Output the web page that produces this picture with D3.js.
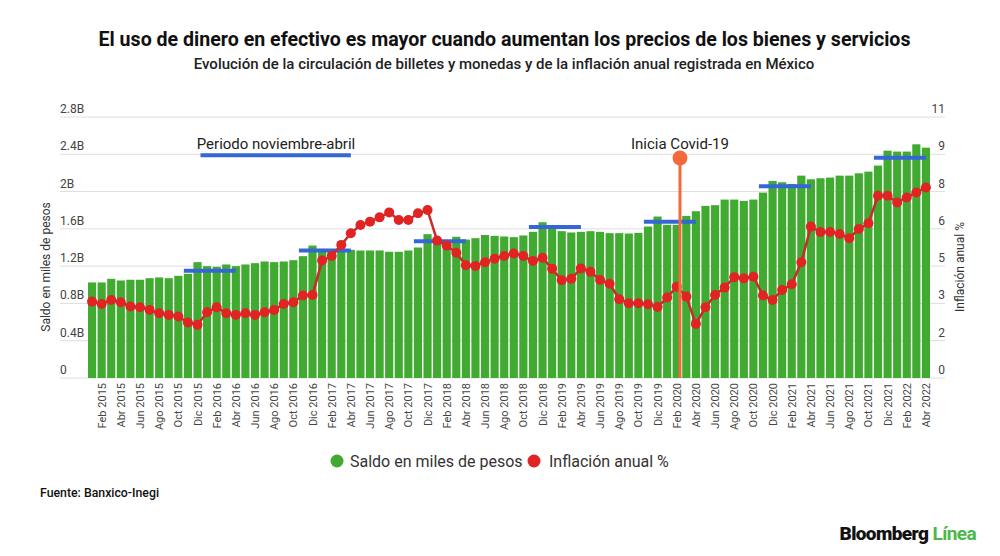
<!DOCTYPE html>
<html>
<head>
<meta charset="utf-8">
<script src="https://cdn.jsdelivr.net/npm/d3@7/dist/d3.min.js"></script>
<style>
  html, body { margin: 0; padding: 0; background: #fff; }
  svg { display: block; font-family: Roboto, "Noto Sans", sans-serif; }
</style>
</head>
<body>
<svg id="chart" width="1000" height="556"></svg>
<script>
// ---------- DATA ----------
const monthNames = ["Ene","Feb","Mar","Abr","May","Jun","Jul","Ago","Sep","Oct","Nov","Dic"];
const years = [2015, 2016, 2017, 2018, 2019, 2020, 2021, 2022];
const lastMonthCount = 4; // 2022: Ene-Abr

// Saldo (billetes y monedas) en miles de millones ("B")
const saldo = [
  1.025, 1.025, 1.064, 1.046, 1.054, 1.054, 1.071, 1.079, 1.071, 1.096, 1.118, 1.243,
  1.200, 1.193, 1.218, 1.200, 1.218, 1.232, 1.250, 1.243, 1.250, 1.264, 1.307, 1.421,
  1.385, 1.375, 1.370, 1.375, 1.368, 1.368, 1.368, 1.354, 1.354, 1.368, 1.400, 1.543,
  1.500, 1.475, 1.515, 1.485, 1.500, 1.534, 1.525, 1.518, 1.511, 1.529, 1.568, 1.671,
  1.621, 1.575, 1.561, 1.568, 1.575, 1.568, 1.554, 1.554, 1.550, 1.557, 1.625, 1.732,
  1.643, 1.643, 1.739, 1.789, 1.846, 1.854, 1.914, 1.914, 1.900, 1.914, 1.989, 2.114,
  2.100, 2.082, 2.171, 2.132, 2.143, 2.150, 2.171, 2.171, 2.196, 2.214, 2.279, 2.439,
  2.429, 2.429, 2.507, 2.471
];

// Inflación anual %
const inflacion = [
  3.22, 3.12, 3.29, 3.19, 3.01, 2.98, 2.87, 2.73, 2.66, 2.59, 2.34, 2.24,
  2.77, 2.98, 2.73, 2.66, 2.73, 2.66, 2.77, 2.87, 3.12, 3.19, 3.48, 3.50,
  4.95, 5.14, 5.61, 6.10, 6.45, 6.59, 6.77, 6.98, 6.66, 6.66, 6.94, 7.08,
  5.79, 5.58, 5.28, 4.75, 4.72, 4.88, 5.03, 5.14, 5.25, 5.14, 4.93, 5.07,
  4.60, 4.12, 4.18, 4.62, 4.48, 4.13, 3.97, 3.32, 3.15, 3.15, 3.11, 2.99,
  3.39, 3.85, 3.43, 2.28, 2.98, 3.50, 3.81, 4.25, 4.20, 4.27, 3.48, 3.29,
  3.71, 3.95, 4.88, 6.38, 6.15, 6.15, 6.07, 5.89, 6.28, 6.52, 7.68, 7.68,
  7.40, 7.61, 7.82, 8.03
];

// Periodos noviembre-abril: [inicio, fin, nivel en B]
const periodos = [
  ["Nov 2015", "Abr 2016", 1.150],
  ["Nov 2016", "Abr 2017", 1.368],
  ["Nov 2017", "Abr 2018", 1.468],
  ["Nov 2018", "Abr 2019", 1.621],
  ["Nov 2019", "Abr 2020", 1.675],
  ["Nov 2020", "Abr 2021", 2.057],
  ["Nov 2021", "Abr 2022", 2.364]
];

const leftTicks = [0, 0.4, 0.8, 1.2, 1.6, 2.0, 2.4, 2.8];
const leftTickLabels = ["0", "0.4B", "0.8B", "1.2B", "1.6B", "2B", "2.4B", "2.8B"];
const rightTickLabels = ["0", "2", "3", "5", "6", "8", "9", "11"];
const rightMax = 11;

const covidMonth = "Feb 2020";
const legendPeriodo = ["Dic 2015", "Abr 2017", 2.39];

// ---------- BUILD ----------
const categories = [];
years.forEach(y => {
  const n = (y === 2022) ? lastMonthCount : 12;
  for (let m = 0; m < n; m++) categories.push(monthNames[m] + " " + y);
});
const data = categories.map((c, i) => ({ cat: c, saldo: saldo[i], inf: inflacion[i] }));

const svg = d3.select("#chart");
const plot = { left: 88, right: 930, top: 117, bottom: 378 };

const x = d3.scaleBand().domain(categories).range([plot.left, plot.right])
  .paddingInner(0.15).paddingOuter(0);
const yL = d3.scaleLinear().domain([0, 2.8]).range([plot.bottom, plot.top]);
const yR = d3.scaleLinear().domain([0, rightMax]).range([plot.bottom, plot.top]);
const cx = c => x(c) + x.bandwidth() / 2;

// Titles
svg.append("text").attr("x", 504.5).attr("y", 45.5).attr("text-anchor", "middle")
  .attr("font-size", 19.6).attr("font-weight", 700).attr("fill", "#111")
  .text("El uso de dinero en efectivo es mayor cuando aumentan los precios de los bienes y servicios");
svg.append("text").attr("x", 504).attr("y", 69).attr("text-anchor", "middle")
  .attr("font-size", 15).attr("font-weight", 500).attr("fill", "#222")
  .text("Evolución de la circulación de billetes y monedas y de la inflación anual registrada en México");

// Gridlines + tick labels
const grid = svg.append("g");
leftTicks.forEach((t, i) => {
  const yy = yL(t);
  grid.append("line").attr("x1", 60).attr("x2", 945).attr("y1", yy).attr("y2", yy)
    .attr("stroke", "#dedede").attr("stroke-width", 1);
  grid.append("text").attr("x", 60).attr("y", yy - 4).attr("font-size", 12)
    .attr("fill", "#444").text(leftTickLabels[i]);
  grid.append("text").attr("x", 945).attr("y", yy - 4).attr("font-size", 12)
    .attr("text-anchor", "end").attr("fill", "#444").text(rightTickLabels[i]);
});

// Axis titles
svg.append("text").attr("transform", "translate(50,267) rotate(-90)")
  .attr("text-anchor", "middle").attr("font-size", 12).attr("fill", "#333")
  .text("Saldo en miles de pesos");
svg.append("text").attr("transform", "translate(964,267) rotate(-90)")
  .attr("text-anchor", "middle").attr("font-size", 12).attr("fill", "#333")
  .text("Inflación anual %");

// Bars
svg.append("g").selectAll("rect").data(data).join("rect")
  .attr("x", d => x(d.cat)).attr("width", x.bandwidth())
  .attr("y", d => yL(d.saldo)).attr("height", d => yL(0) - yL(d.saldo))
  .attr("fill", "#40aa31");

// X labels (every other month, starting Feb)
const xl = svg.append("g");
categories.forEach((c, i) => {
  if (i % 2 === 1) {
    xl.append("text").attr("transform", `translate(${cx(c) + 4},383) rotate(-90)`)
      .attr("text-anchor", "end").attr("font-size", 11).attr("fill", "#444").text(c);
  }
});

// Period lines
svg.append("g").selectAll("line").data(periodos).join("line")
  .attr("x1", d => x(d[0])).attr("x2", d => cx(d[1]))
  .attr("y1", d => yL(d[2])).attr("y2", d => yL(d[2]))
  .attr("stroke", "#3566d6").attr("stroke-width", 4);

// Legend of periods
svg.append("line").attr("x1", cx(legendPeriodo[0]) + 3).attr("x2", cx(legendPeriodo[1]))
  .attr("y1", yL(legendPeriodo[2])).attr("y2", yL(legendPeriodo[2]))
  .attr("stroke", "#3566d6").attr("stroke-width", 4);
svg.append("text").attr("x", 276).attr("y", 149).attr("text-anchor", "middle")
  .attr("font-size", 15).attr("fill", "#222").text("Periodo noviembre-abril");

// Inflation line
const line = d3.line().x(d => cx(d.cat)).y(d => yR(d.inf));
svg.append("path").datum(data).attr("d", line).attr("fill", "none")
  .attr("stroke", "#c92a2a").attr("stroke-width", 2.5);
svg.append("g").selectAll("circle").data(data).join("circle")
  .attr("cx", d => cx(d.cat)).attr("cy", d => yR(d.inf)).attr("r", 5)
  .attr("fill", "#e02424");

// Covid marker
const covX = x(covidMonth) + x.bandwidth() * 0.9;
svg.append("line").attr("x1", covX).attr("x2", covX)
  .attr("y1", yL(2.36)).attr("y2", yL(0))
  .attr("stroke", "#f26a3b").attr("stroke-width", 3);
svg.append("circle").attr("cx", covX).attr("cy", yL(2.36)).attr("r", 7.5)
  .attr("fill", "#f26a3b");
svg.append("text").attr("x", covX).attr("y", 149).attr("text-anchor", "middle")
  .attr("font-size", 15).attr("fill", "#222").text("Inicia Covid-19");

// Legend
const lg = svg.append("g");
lg.append("circle").attr("cx", 337).attr("cy", 461).attr("r", 6.5).attr("fill", "#40aa31");
lg.append("text").attr("x", 350).attr("y", 467).attr("font-size", 16).attr("fill", "#333")
  .text("Saldo en miles de pesos");
lg.append("circle").attr("cx", 534).attr("cy", 461).attr("r", 6.5).attr("fill", "#e02424");
lg.append("text").attr("x", 549).attr("y", 467).attr("font-size", 16).attr("fill", "#333")
  .text("Inflación anual %");

// Footer
svg.append("text").attr("x", 40).attr("y", 497).attr("font-size", 12.3).attr("font-weight", 500)
  .attr("fill", "#111").text("Fuente: Banxico-Inegi");

// Logo
const logo = svg.append("text").attr("x", 976).attr("y", 540).attr("text-anchor", "end")
  .attr("font-size", 19).attr("letter-spacing", -0.6);
logo.append("tspan").attr("font-weight", 900).attr("fill", "#111").text("Bloomberg ");
logo.append("tspan").attr("font-weight", 700).attr("fill", "#4cb848").text("Línea");
</script>
</body>
</html>
